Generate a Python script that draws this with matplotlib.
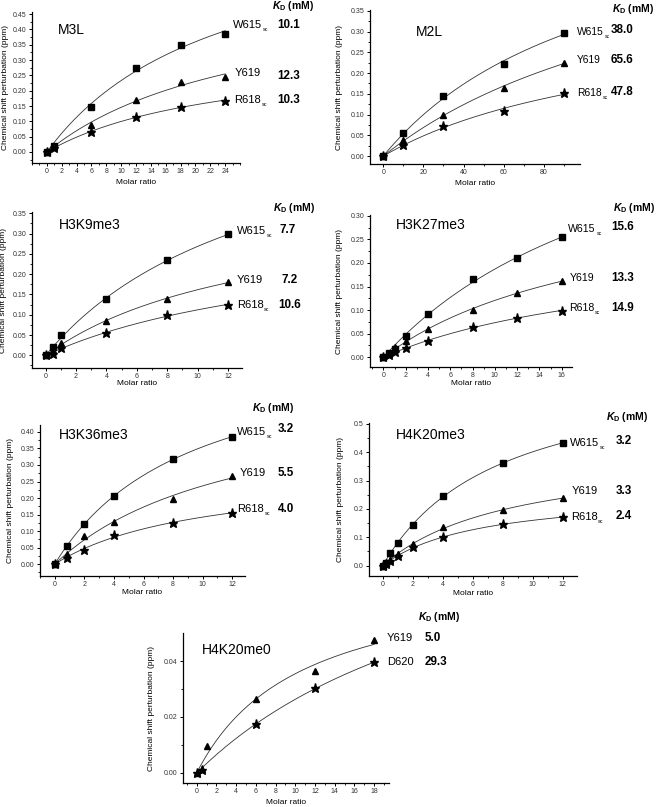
import numpy as np
import matplotlib
matplotlib.use("Agg")
import matplotlib.pyplot as plt
from matplotlib.ticker import MultipleLocator, FormatStrFormatter

plt.rcParams['font.family'] = ['Liberation Sans', 'DejaVu Sans']
plt.rcParams['mathtext.fontset'] = 'custom'
plt.rcParams['mathtext.rm'] = 'Liberation Sans:bold'
plt.rcParams['mathtext.it'] = 'Liberation Sans:italic:bold'
plt.rcParams['mathtext.bf'] = 'Liberation Sans:bold'

# ---------------- data ----------------
m3l_x = [0, 1, 6, 12, 18, 24]
m3l_w615 = [0, 0.020, 0.147, 0.275, 0.350, 0.385]
m3l_y619 = [0, 0.015, 0.088, 0.170, 0.230, 0.245]
m3l_r618 = [0, 0.012, 0.065, 0.115, 0.148, 0.167]
m3l_kd = ["10.1", "12.3", "10.3"]

m2l_x = [0, 10, 30, 60, 90]
m2l_w615 = [0, 0.055, 0.144, 0.222, 0.297]
m2l_y619 = [0, 0.038, 0.100, 0.165, 0.225]
m2l_r618 = [0, 0.027, 0.073, 0.108, 0.152]
m2l_kd = ["38.0", "65.6", "47.8"]

k9_x = [0, 0.5, 1, 4, 8, 12]
k9_w615 = [0, 0.020, 0.050, 0.138, 0.235, 0.298]
k9_y619 = [0, 0.012, 0.030, 0.085, 0.140, 0.180]
k9_r618 = [0, 0.003, 0.018, 0.055, 0.100, 0.124]
k9_kd = ["7.7", "7.2", "10.6"]

k27_x = [0, 0.5, 1, 2, 4, 8, 12, 16]
k27_w615 = [0, 0.008, 0.018, 0.046, 0.091, 0.165, 0.210, 0.254]
k27_y619 = [0, 0.006, 0.022, 0.035, 0.059, 0.101, 0.136, 0.162]
k27_r618 = [0, 0.004, 0.012, 0.019, 0.034, 0.064, 0.083, 0.099]
k27_kd = ["15.6", "13.3", "14.9"]

k36_x = [0, 0.8, 2, 4, 8, 12]
k36_w615 = [0, 0.055, 0.120, 0.207, 0.318, 0.385]
k36_y619 = [0, 0.030, 0.085, 0.127, 0.198, 0.267]
k36_r618 = [0, 0.018, 0.042, 0.088, 0.125, 0.155]
k36_kd = ["3.2", "5.5", "4.0"]

k20_x = [0, 0.25, 0.5, 1, 2, 4, 8, 12]
k20_w615 = [0, 0.010, 0.045, 0.080, 0.145, 0.245, 0.362, 0.432]
k20_y619 = [0, 0.008, 0.020, 0.040, 0.075, 0.135, 0.197, 0.237]
k20_r618 = [0, 0.005, 0.015, 0.035, 0.065, 0.100, 0.147, 0.170]
k20_kd = ["3.2", "3.3", "2.4"]

k20me0_x_y619 = [0, 0.5, 1, 6, 12, 18]
k20me0_y619 = [0, 0.0015, 0.0097, 0.0265, 0.0365, 0.0475]
k20me0_x_d620 = [0, 0.5, 6, 12, 18]
k20me0_d620 = [0, 0.0010, 0.0175, 0.0303, 0.0395]
k20me0_kd = ["5.0", "29.3"]

W, H = 656, 807
fig = plt.figure(figsize=(W / 100, H / 100), dpi=100)
renderer = fig.canvas.get_renderer()


def rect(l, r, t, b):
    return [l / W, 1 - b / H, (r - l) / W, (b - t) / H]


def ftext(px, py, s, **kw):
    kw.setdefault('va', 'center')
    kw.setdefault('ha', 'left')
    return fig.text(px / W, 1 - py / H, s, **kw)


def fit_curve(x, y):
    x = np.asarray(x, float)
    y = np.asarray(y, float)
    best = None
    for K in np.linspace(0.05, 600, 6000):
        f = x / (K + x)
        B = (f @ y) / (f @ f)
        err = ((B * f - y) ** 2).sum()
        if best is None or err < best[0]:
            best = (err, K, B)
    _, K, B = best
    xs = np.linspace(0, x.max(), 200)
    return xs, B * xs / (K + xs)


def panel(r, xlim, ylim, xmaj, xmin, ymaj, ymin, yfmt, xticks_max, ytick_max,
          series, title, title_pos, ylab_x, xlab_y):
    ax = fig.add_axes(rect(*r))
    ax.set_xlim(*xlim)
    ax.set_ylim(*ylim)
    for sp in ['top', 'right']:
        ax.spines[sp].set_visible(False)
    for sp in ['left', 'bottom']:
        ax.spines[sp].set_linewidth(0.9)
    ax.set_xticks(np.arange(0, xticks_max + 1e-9, xmaj))
    ax.xaxis.set_minor_locator(MultipleLocator(xmin))
    ax.set_yticks(np.arange(0, ytick_max + 1e-9, ymaj))
    ax.yaxis.set_minor_locator(MultipleLocator(ymin))
    ax.yaxis.set_major_formatter(FormatStrFormatter(yfmt))
    ax.tick_params(which='major', length=2.2, width=0.7, pad=1.5,
                   labelsize=5, labelcolor='#333333')
    ax.tick_params(which='minor', length=1.3, width=0.6)
    for x, y, m, ms in series:
        xs, ys = fit_curve(x, y)
        ax.plot(xs, ys, color='#333333', lw=0.6, zorder=2)
        ax.plot(x, y, linestyle='none', marker=m, color='black', ms=ms,
                zorder=3, clip_on=False)
    ftext(title_pos[0], title_pos[1], title, fontsize=10)
    ax.set_ylabel('Chemical shift perturbation (ppm)', fontsize=6)
    ax.set_xlabel('Molar ratio', fontsize=6)
    ax.yaxis.set_label_coords((ylab_x - r[0]) / (r[1] - r[0]), 0.5)
    ax.xaxis.set_label_coords(0.5, -(xlab_y - r[3]) / (r[3] - r[2]))
    ax.xaxis.label.set_va('center')
    ax.yaxis.label.set_va('center')
    return ax


def name_text(px, py, main, sub, size):
    t = ftext(px, py, main, fontsize=size)
    if sub:
        bb = t.get_window_extent(renderer=renderer)
        fig.text((bb.x1 + 0.8) / W, (bb.y0 - 1.8) / H, sub, fontsize=size * 0.5,
                 ha='left', va='bottom')


def labels(names, name_pos, kds, kd_pos, head_pos, size=8.0):
    for (main, sub), (px, py) in zip(names, name_pos):
        name_text(px, py, main, sub, size)
    for k, (px, py) in zip(kds, kd_pos):
        ftext(px, py, k, fontsize=8.4, weight='bold')
    ftext(head_pos[0], head_pos[1], r'$\mathit{K}_{\mathrm{D}}$ (mM)',
          fontsize=7.5, weight='bold')


names3 = [('W615', 'sc'), ('Y619', ''), ('R618', 'sc')]

# M3L
panel((32, 240, 12, 163), (-2, 26), (-0.036, 0.457), 2, 1, 0.05, 0.025, '%.2f', 24, 0.45,
      [(m3l_x, m3l_w615, 's', 5), (m3l_x, m3l_y619, '^', 5), (m3l_x, m3l_r618, '*', 6.5)],
      'M3L', (58, 30), 6, 182.7)
labels(names3, [(233, 25), (235, 73), (234, 100)], m3l_kd,
       [(277, 25), (277, 76), (277, 100)], (272, 6))

# M2L
panel((370, 580, 10, 164), (-6.6, 98), (-0.019, 0.352), 20, 10, 0.05, 0.025, '%.2f', 80, 0.35,
      [(m2l_x, m2l_w615, 's', 5), (m2l_x, m2l_y619, '^', 5), (m2l_x, m2l_r618, '*', 6.5)],
      'M2L', (416, 31.7), 340, 183.3)
labels(names3, [(577, 32), (577, 60), (577, 93)], m2l_kd,
       [(611, 30), (611, 60), (611, 92)], (612, 9), size=7.4)

# H3K9me3
panel((31.7, 241.7, 212.3, 368.3), (-0.92, 12.9), (-0.032, 0.3525), 2, 1, 0.05, 0.025, '%.2f', 12, 0.35,
      [(k9_x, k9_w615, 's', 5), (k9_x, k9_y619, '^', 5), (k9_x, k9_r618, '*', 6.5)],
      'H3K9me3', (59.3, 225), 4, 383.3)
labels(names3, [(236.7, 231), (236.7, 280), (236.7, 305)], k9_kd,
       [(280, 230), (281, 280), (278, 305)], (273, 208))

# H3K27me3
panel((370, 571.7, 215.3, 366.7), (-1.2, 16.9), (-0.02, 0.301), 2, 1, 0.05, 0.025, '%.2f', 16, 0.30,
      [(k27_x, k27_w615, 's', 5), (k27_x, k27_y619, '^', 5), (k27_x, k27_r618, '*', 6.5)],
      'H3K27me3', (395.7, 225), 340, 383.3)
labels(names3, [(568.3, 229), (569.3, 278), (569.3, 308)], k27_kd,
       [(611, 227), (611, 278), (611, 308)], (613, 208), size=7.6)

# H3K36me3
panel((40, 245, 425, 576), (-1, 12.86), (-0.036, 0.421), 2, 1, 0.05, 0.025, '%.2f', 12, 0.40,
      [(k36_x, k36_w615, 's', 5), (k36_x, k36_y619, '^', 5), (k36_x, k36_r618, '*', 6.5)],
      'H3K36me3', (59.3, 435), 10, 592.7)
labels(names3, [(237.3, 432), (240, 473), (237.3, 509)], k36_kd,
       [(278, 429), (278, 473), (278, 509)], (252, 408))

# H4K20me3
panel((369, 576.7, 423.3, 576), (-0.91, 12.93), (-0.0365, 0.502), 2, 1, 0.1, 0.05, '%.1f', 12, 0.5,
      [(k20_x, k20_w615, 's', 5), (k20_x, k20_y619, '^', 5), (k20_x, k20_r618, '*', 6.5)],
      'H4K20me3', (395.7, 435), 340, 593.3)
labels(names3, [(570, 443), (571.7, 491), (570.7, 517)], k20_kd,
       [(616, 441), (616, 491), (616, 516)], (606, 417))

# H4K20me0
panel((182.7, 389, 633.3, 783.3), (-1.42, 19.5), (-0.0037, 0.0499), 2, 1, 0.02, 0.01, '%.2f', 18, 0.04,
      [(k20me0_x_y619, k20me0_y619, '^', 5), (k20me0_x_d620, k20me0_d620, '*', 6.5)],
      'H4K20me0', (201.7, 650), 151.7, 802.7)
labels([('Y619', ''), ('D620', '')], [(386.7, 638), (386.7, 662)], k20me0_kd,
       [(425, 638), (425, 662)], (417.7, 617))

fig.savefig('out.png', dpi=100)
